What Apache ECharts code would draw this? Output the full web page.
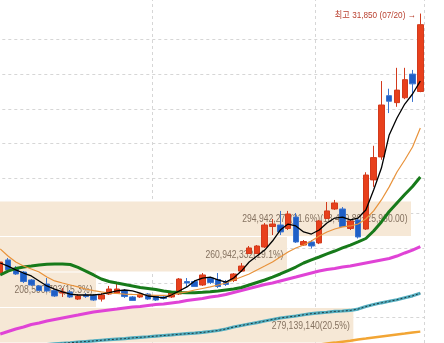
<!DOCTYPE html>
<html><head><meta charset="utf-8">
<script src="https://cdn.jsdelivr.net/npm/echarts@6/dist/echarts.min.js"></script>
<style>html,body{margin:0;padding:0;background:#fff;overflow:hidden}#c{width:444px;height:343px}</style>
</head><body><div id="c"></div>
<script>
// ---- data ----
const dates = ['05/02','05/03','05/04','05/08','05/09','05/10','05/11','05/12','05/15','05/16','05/17','05/18','05/19','05/22','05/23','05/24','05/25','05/26','05/30','05/31',
  '06/01','06/02','06/05','06/07','06/08','06/09','06/12','06/13','06/14','06/15','06/16','06/19','06/20','06/21','06/22','06/23','06/26','06/27','06/28','06/29','06/30',
  '07/03','07/04','07/05','07/06','07/07','07/10','07/11','07/12','07/13','07/14','07/17','07/18','07/19','07/20'];
const open  = [13210,14150,13570,13280,12710,12280,12420,11950,11770,11850,11340,11630,11590,11340,11700,11770,11950,11490,11490,11700,
  11560,11490,11490,11700,12600,12600,12350,12850,12740,12600,12670,13350,14610,14610,15080,16550,16660,16410,17230,15220,
  15440,15370,17130,17810,17810,16410,17020,16370,19900,21550,25950,25450,25800,27500,26250];
const close = [14000,13430,13140,12600,12350,11950,11920,11560,11850,11490,11560,11520,11270,11630,12060,12060,11520,11240,11700,11340,
  11270,11380,11850,12780,12490,12240,13070,12530,12240,12390,13140,13710,15010,15150,16660,16730,16160,17450,15440,15470,
  15150,16950,17670,18240,16550,16950,15800,20250,21500,25280,25550,26350,27100,26800,31050];
const low   = [13070,13350,13070,12490,12280,11920,11850,11490,11490,11420,11270,11420,11200,11160,11630,11700,11420,11200,11420,11270,
  11200,11310,11420,11630,12210,12210,12280,12420,12130,12280,12560,13280,14580,14580,15010,15940,15940,16300,15370,15150,
  14970,15290,17090,17740,16520,16300,15690,16300,19400,21350,24700,25150,25700,25500,26200];
const high  = [14220,14290,13710,13350,12780,12350,12850,12060,12130,11990,11700,11770,11700,11770,12280,12420,12060,11560,11770,11770,
  11630,11560,11920,12850,12850,12710,13210,12920,13210,12710,13210,13930,15150,15220,16800,17090,17670,17670,17520,15580,
  15580,17020,18310,18460,17950,17020,17160,20450,22350,27000,26450,27950,27950,27800,31850];
const ma5   = [13930,13710,13430,13210,13000,12640,12280,12060,11850,11700,11630,11630,11630,11700,11800,11920,11990,11920,11770,11560,
  11490,11420,11630,11920,12210,12640,12850,12920,12710,12560,12850,13350,14000,14430,14860,15510,16300,16730,16590,16160,
  16010,16300,16800,17160,17230,17020,17160,17740,19170,20750,23130,24350,25350,26070,27000];
const ma20  = [14940,14430,14000,13710,13500,13280,12920,12640,12490,12350,12210,12060,11950,11850,11770,11740,11700,11670,11650,11630,
  11610,11610,11630,11770,11850,11990,12100,12210,12350,12490,12710,12920,13140,13430,13710,14000,14360,14720,15010,15220,
  15510,15870,16160,16370,16520,16590,16730,17090,17670,18460,19400,20470,21330,22260,23630];
const ma60  = [13070,13350,13530,13640,13710,13790,13840,13860,13860,13820,13610,13350,13070,12780,12600,12490,12390,12280,12170,12100,
  12030,11920,11850,11810,11800,11800,11820,11860,11920,11990,12060,12170,12350,12530,12710,12920,13140,13390,13640,13930,
  14150,14360,14580,14790,15010,15220,15440,15690,16230,16880,17630,18240,18850,19430,20110];
const ma120 = [8830,9010,9190,9330,9510,9620,9760,9870,9980,10090,10190,10300,10410,10480,10550,10620,10700,10770,10800,10880,
  10950,10980,11060,11130,11240,11310,11380,11490,11560,11670,11810,11950,12100,12240,12390,12490,12640,12780,12920,13070,
  13210,13350,13460,13530,13640,13710,13820,13930,14040,14150,14250,14430,14650,14860,15110];
const ma240 = [7820,7870,7910,7950,7990,8030,8070,8120,8160,8200,8250,8290,8330,8380,8420,8460,8500,8550,8590,8630,
  8680,8720,8760,8810,8850,8890,8940,9010,9080,9190,9330,9440,9550,9650,9760,9870,9980,10050,10120,10210,
  10290,10340,10390,10450,10480,10520,10620,10800,10950,11070,11180,11290,11430,11570,11750];
const ma480 = [null,null,null,null,null,null,null,null,null,null,null,null,null,null,null,null,null,null,null,null,
  null,null,null,null,null,null,null,null,null,null,null,null,null,null,null,null,null,null,7860,7930,
  8000,8070,8150,8210,8280,8350,8430,8500,8580,8650,8720,8790,8860,8940,9000];
// volume-by-price bands
const bandLow    = [15870, 13320, 10770, 8220];
const bandHigh   = [18420, 15870, 13320, 10770];
const bandVolume = [294942271, 260942332, 208590703, 279139140];
const bandLabel  = ['294,942,271(21.6%)(18,479.80~25,960.00)', '260,942,332(19.1%)', '208,590,703(15.3%)', '279,139,140(20.5%)'];

// ---- chart ----
const FONT = "'Liberation Sans','Noto Sans CJK KR',sans-serif";
const fmt = v => String(v).replace(/\B(?=(\d{3})+(?!\d))/g, ',');
let maxIdx = 0; high.forEach((h, i) => { if (h > high[maxIdx]) maxIdx = i; });
const candles = dates.map((d, i) => [open[i], close[i], low[i], high[i]]);
const gridCol = '#d6d6d6';
const ySplitColors = ['rgba(0,0,0,0)','#d6d6d6','#d6d6d6','#d6d6d6','#d6d6d6','#d6d6d6','#d6d6d6','#d6d6d6','#d6d6d6','#d6d6d6','rgba(0,0,0,0)','rgba(0,0,0,0)'];

function line(data, color, width, z, extra) {
  return Object.assign({type: 'line', data: data, symbol: 'none', showSymbol: false, silent: true,
    lineStyle: {color: color, width: width}, z: z, xAxisIndex: 0, yAxisIndex: 0, animation: false}, extra || {});
}

const chart = echarts.init(document.getElementById('c'), null, {renderer: 'canvas'});
chart.setOption({
  animation: false,
  backgroundColor: '#ffffff',
  grid: {left: -3.69, right: 19.8, top: -2, bottom: -9.5, outerBoundsMode: 'none', containLabel: false},
  xAxis: [
    {type: 'category', data: dates, boundaryGap: true,
     axisLine: {show: false}, axisTick: {show: false}, axisLabel: {show: false},
     splitLine: {show: true, interval: (i) => i > 0 && dates[i].slice(0, 2) !== dates[i - 1].slice(0, 2),
       lineStyle: {color: gridCol, width: 1, type: [3, 3]}}},
    {type: 'value', min: 181260000, max: 298560000, show: false, splitLine: {show: false}}
  ],
  yAxis: [{type: 'value', min: 7500, max: 32967, interval: 2500, scale: true,
    axisLine: {show: false}, axisTick: {show: false}, axisLabel: {show: false},
    splitLine: {show: true, lineStyle: {color: ySplitColors, width: 1, type: [3, 3]}}}],
  series: [
    {type: 'custom', xAxisIndex: 1, yAxisIndex: 0, silent: true, z: 1, clip: false,
     data: bandVolume.map((v, i) => [v, bandLow[i], bandHigh[i], i]),
     encode: {x: 0, y: [1, 2]},
     renderItem: function (params, api) {
       const vol = api.value(0), lo = api.value(1), hi = api.value(2), k = api.value(3);
       const cs = params.coordSys;
       const pTop = api.coord([vol, hi]);
       const pBot = api.coord([vol, lo]);
       const x0 = cs.x, y0 = pTop[1] + 1, y1 = pBot[1];
       return {type: 'group', children: [
         {type: 'rect', shape: {x: x0, y: y0, width: pTop[0] - x0, height: y1 - y0}, style: {fill: '#f6e8d6'}},
         {type: 'text', x: pTop[0] - 3.5, y: (y0 + y1) / 2 + 0.5, scaleX: 0.845,
          style: {text: bandLabel[k], align: 'right', verticalAlign: 'middle', fill: '#857260',
                  font: '10.2px ' + FONT}}
       ]};
     }},
    {type: 'candlestick', data: candles, xAxisIndex: 0, yAxisIndex: 0, z: 3, barWidth: 6, silent: true,
     itemStyle: {color: '#e8401c', color0: '#1f5fc6', borderColor: '#d23a1c', borderColor0: '#3b74cf', borderWidth: 1}},
    {type: 'custom', xAxisIndex: 0, yAxisIndex: 0, silent: true, z: 8, clip: false,
     data: [[maxIdx, high[maxIdx]]],
     renderItem: function (params, api) {
       const p = api.coord([api.value(0), api.value(1)]);
       return {type: 'text', x: p[0] - 4.5, y: p[1] + 1.5, scaleX: 0.88,
         style: {text: '최고 ' + fmt(high[maxIdx]) + ' (' + dates[maxIdx] + ') →', align: 'right', verticalAlign: 'middle',
                 fill: '#b9402f', font: '9.3px ' + FONT}};
     }},
    line(ma480, '#f2a534', 2.5, 4),
    line(ma240, '#52adbf', 3.2, 4),
    line(ma240, '#1e3a40', 1, 5, {lineStyle: {color: '#1e3a40', width: 1, type: [2, 2]}}),
    line(ma120, '#e043d6', 3, 4),
    line(ma60, '#177a1a', 3, 5),
    line(ma20, '#e8923a', 1.2, 6),
    line(ma5, '#000000', 1.3, 7)
  ]
});
</script></body></html>
